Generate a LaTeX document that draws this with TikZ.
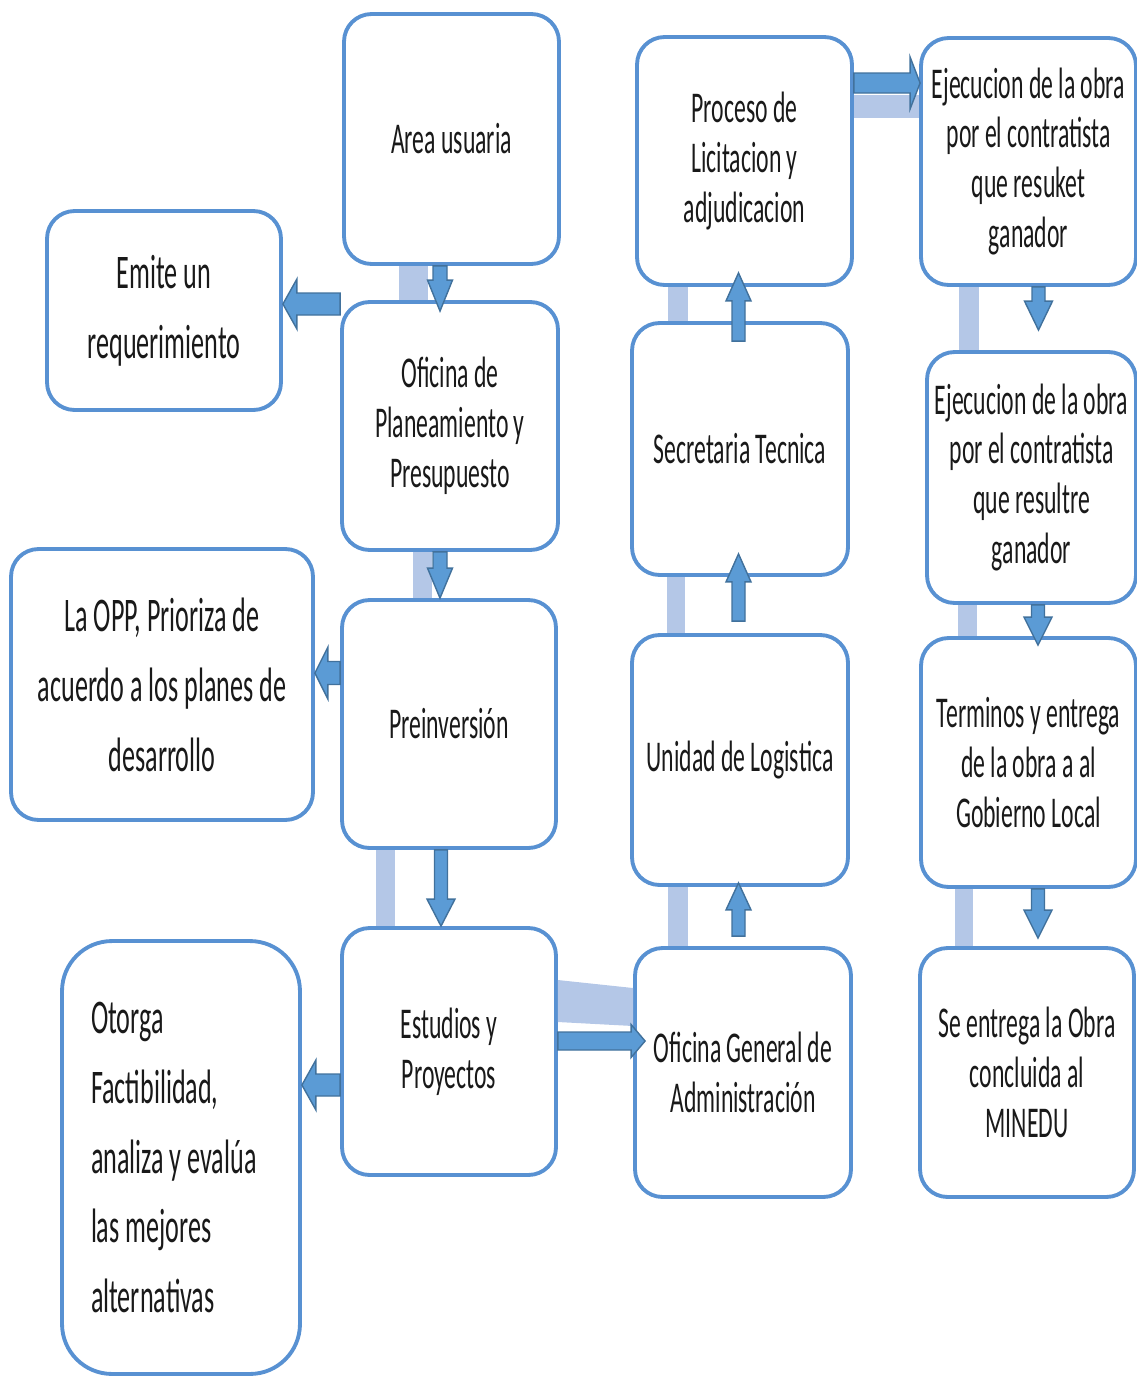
\documentclass[tikz,border=0pt]{standalone}
\usepackage{fontspec}
\setmainfont{Carlito}[FakeStretch=0.54]
\usetikzlibrary{calc}

\definecolor{boxline}{RGB}{88,145,210}
\definecolor{barfill}{RGB}{180,199,231}
\definecolor{arrfill}{RGB}{91,155,213}
\definecolor{arrline}{RGB}{65,113,156}
\definecolor{ink}{RGB}{25,25,25}

\tikzset{
  procbox/.style={draw=boxline, line width=2.2pt, fill=white, rounded corners=0.55cm,
    align=center, text=ink, inner sep=0pt, font=\fontsize{25}{28.45}\selectfont},
  widebox/.style={procbox, font=\fontsize{27.5}{39.8}\selectfont},
  lightbar/.style={fill=barfill},
  blockarrow/.style={draw=arrline, fill=arrfill, line width=0.8pt, line join=miter}
}

% block arrow: shaft half-width, head half-width, head length, tail, tip
\newcommand\blkarrow[5]{%
  \coordinate (hb) at ($#5!#3!#4$);
  \draw[blockarrow] ($#4!#1!90:#5$) -- ($(hb)!#1!90:#5$) -- ($(hb)!#2!90:#5$) -- #5
    -- ($(hb)!#2!-90:#5$) -- ($(hb)!#1!-90:#5$) -- ($#4!#1!-90:#5$) -- cycle;}

\begin{document}
\begin{tikzpicture}[x=0.02cm, y=-0.02cm]
\useasboundingbox (0,0) rectangle (1136,1376);

% ---- process boxes ----
\node[procbox, minimum width=4.3cm,  minimum height=5.0cm]  (area) at (451.5,139)   {Area usuaria};
\node[widebox, minimum width=4.68cm, minimum height=3.98cm] (emite) at (164,310.5)  {Emite un\\requerimiento};
\node[procbox, minimum width=4.32cm, minimum height=4.96cm] (opp)  at (450,426)     {Oficina de\\Planeamiento y\\Presupuesto};
\node[widebox, minimum width=6.04cm, minimum height=5.42cm] (prio) at (162,684.5)   {La OPP, Prioriza de\\acuerdo a los planes de\\desarrollo};
\node[procbox, minimum width=4.28cm, minimum height=4.96cm] (prei) at (449,724)     {Preinversión};
\node[widebox, minimum width=4.76cm, minimum height=8.66cm, rounded corners=1.0cm,
      text width=3.6cm, align=left] (otorga) at (181,1157.5)
      {\spaceskip=0pt\relax Otorga\\Factibilidad,\\analiza y evalúa\\las mejores\\alternativas};
\node[procbox, minimum width=4.28cm, minimum height=4.94cm] (estu) at (449,1051.5)  {Estudios y\\Proyectos};
\node[procbox, minimum width=4.32cm, minimum height=4.98cm] (oga)  at (743,1072.5)  {Oficina General de\\Administración};
\node[procbox, minimum width=4.32cm, minimum height=5.0cm]  (logi) at (740,760)     {Unidad de Logistica};
\node[procbox, minimum width=4.32cm, minimum height=5.04cm] (secr) at (740,449)     {Secretaria Tecnica};
\node[procbox, minimum width=4.3cm,  minimum height=4.96cm] (proc) at (744.5,161)   {Proceso de\\Licitacion y\\adjudicacion};
\node[procbox, minimum width=4.3cm,  minimum height=4.94cm] (ej1)  at (1028.5,161.5){Ejecucion de la obra\\por el contratista\\que resuket\\ganador};
\node[procbox, minimum width=4.18cm, minimum height=5.02cm] (ej2)  at (1031.5,477.5){Ejecucion de la obra\\por el contratista\\que resultre\\ganador};
\node[procbox, minimum width=4.3cm,  minimum height=4.98cm] (term) at (1028.5,762.5){Terminos y entrega\\de la obra a al\\Gobierno Local};
\node[procbox, minimum width=4.28cm, minimum height=4.98cm] (entr) at (1027,1072.5) {Se entrega la Obra\\concluida al\\MINEDU};

% ---- light connecting bars ----
\fill[lightbar] ([xshift=-1.05cm]area.south) rectangle ([xshift=-0.44cm]opp.north);
\fill[lightbar] ([xshift=-0.74cm]opp.south)  rectangle ([xshift=-0.34cm]prei.north);
\fill[lightbar] ([xshift=-1.46cm]prei.south) rectangle ([xshift=-1.08cm]estu.north);
\fill[lightbar] ([yshift=1.43cm]estu.east) -- ([yshift=1.69cm]oga.west)
                -- ([yshift=0.93cm]oga.west) -- ([yshift=0.59cm]estu.east) -- cycle;
\fill[lightbar] ([xshift=-1.5cm]oga.north)   rectangle ([xshift=-1.04cm]logi.south);
\fill[lightbar] ([xshift=-1.46cm]logi.north) rectangle ([xshift=-1.1cm]secr.south);
\fill[lightbar] ([xshift=-1.44cm]secr.north) rectangle ([xshift=-1.13cm]proc.south);
\fill[lightbar] ([yshift=1.32cm]proc.east)   rectangle ([yshift=0.87cm]ej1.west);
\fill[lightbar] ([xshift=-1.39cm]ej1.south)  rectangle ([xshift=-1.05cm]ej2.north);
\fill[lightbar] ([xshift=-1.47cm]ej2.south)  rectangle ([xshift=-1.03cm]term.north);
\fill[lightbar] ([xshift=-1.47cm]term.south) rectangle ([xshift=-1.08cm]entr.north);

% ---- block arrows ----
\blkarrow{0.14cm}{0.25cm}{0.62cm}{([xshift=-0.23cm]area.south)}{([shift={(-0.2cm,-0.22cm)}]opp.north)}
\blkarrow{0.22cm}{0.5cm}{0.28cm}{([yshift=2.44cm]opp.west)}{([yshift=0.13cm]emite.east)}
\blkarrow{0.14cm}{0.25cm}{0.6cm}{([xshift=-0.2cm]opp.south)}{([xshift=-0.18cm]prei.north)}
\blkarrow{0.23cm}{0.52cm}{0.26cm}{([yshift=1.02cm]prei.west)}{([yshift=0.23cm]prio.east)}
\blkarrow{0.13cm}{0.28cm}{0.54cm}{([xshift=-0.16cm]prei.south)}{([xshift=-0.16cm]estu.north)}
\blkarrow{0.22cm}{0.5cm}{0.28cm}{([yshift=-0.67cm]estu.west)}{([yshift=1.45cm]otorga.east)}
\blkarrow{0.18cm}{0.33cm}{0.28cm}{([yshift=0.21cm]estu.east)}{([shift={(0.24cm,0.63cm)}]oga.west)}
\blkarrow{0.13cm}{0.25cm}{0.54cm}{([shift={(-0.09cm,0.2cm)}]oga.north)}{([shift={(-0.03cm,0.08cm)}]logi.south)}
\blkarrow{0.13cm}{0.25cm}{0.56cm}{([shift={(-0.03cm,0.24cm)}]logi.north)}{([shift={(-0.03cm,0.46cm)}]secr.south)}
\blkarrow{0.13cm}{0.25cm}{0.56cm}{([shift={(-0.03cm,-0.4cm)}]secr.north)}{([shift={(-0.12cm,0.28cm)}]proc.south)}
\blkarrow{0.2cm}{0.52cm}{0.2cm}{([yshift=1.56cm]proc.east)}{([shift={(0.02cm,1.57cm)}]ej1.west)}
\blkarrow{0.13cm}{0.28cm}{0.58cm}{([xshift=0.2cm]ej1.south)}{([shift={(0.14cm,0.4cm)}]ej2.north)}
\blkarrow{0.13cm}{0.28cm}{0.56cm}{([xshift=0.13cm]ej2.south)}{([shift={(0.19cm,-0.18cm)}]term.north)}
\blkarrow{0.13cm}{0.28cm}{0.56cm}{([xshift=0.19cm]term.south)}{([shift={(0.22cm,0.16cm)}]entr.north)}
\end{tikzpicture}
\end{document}
